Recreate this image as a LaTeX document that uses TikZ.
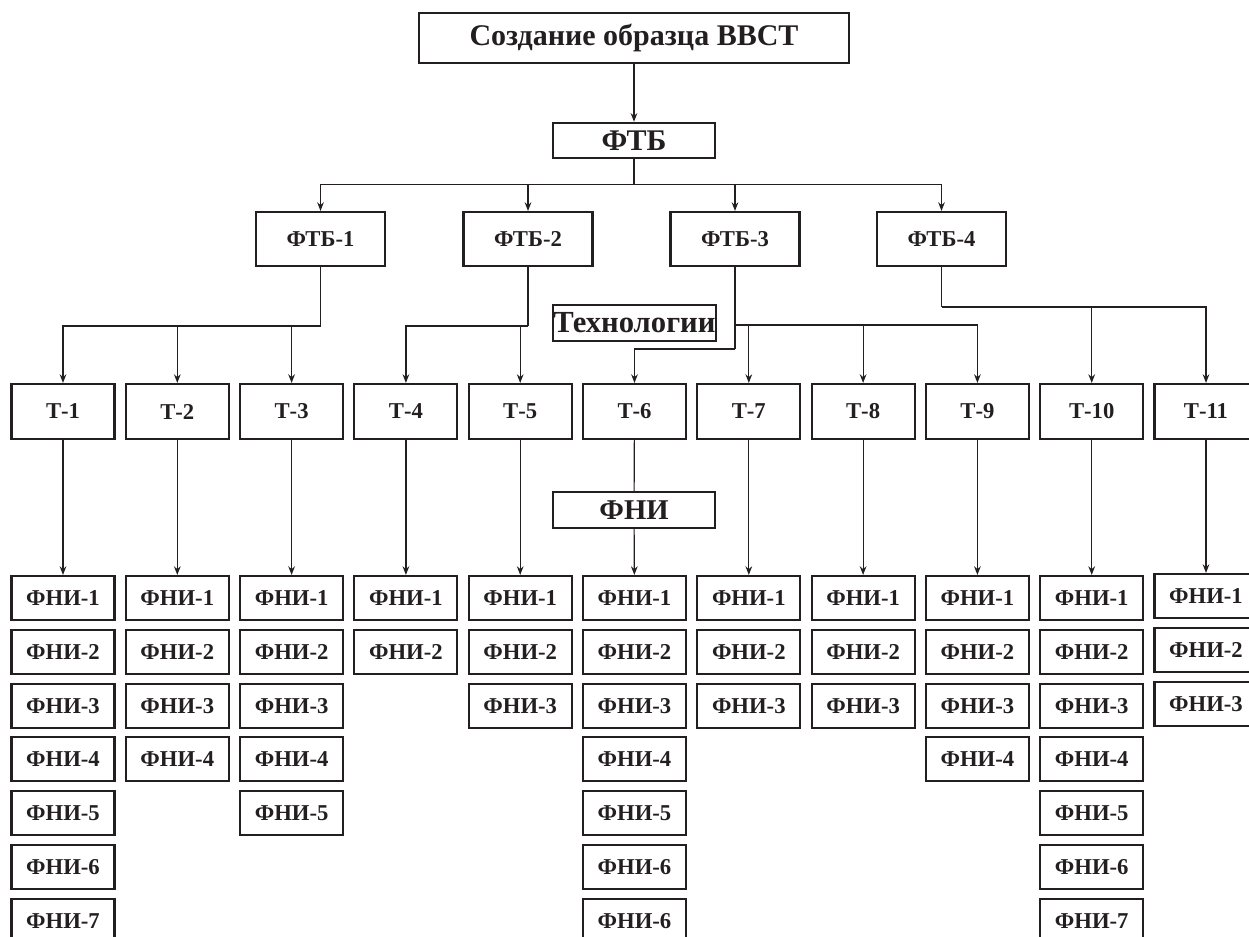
\documentclass[tikz,border=0pt]{standalone}
\usepackage{fontspec}
\setmainfont{Liberation Serif}
\usetikzlibrary{arrows.meta}
\definecolor{inkc}{RGB}{35,31,32}
\begin{document}
\begin{tikzpicture}[x=0.75pt,y=-0.75pt,
  box/.style={draw=inkc, line width=1.6pt, rectangle, inner sep=0pt, text=inkc,
    font=\bfseries\fontsize{17}{17}\selectfont},
  tbox/.style={box, minimum width=77.25pt, minimum height=41.25pt},
  fbox/.style={box, minimum width=77.25pt, minimum height=33pt},
  ftbbox/.style={box, minimum width=96.75pt, minimum height=40.5pt},
  headbox/.style={box, minimum width=121.5pt, minimum height=26.5pt},
  conn/.style={draw=inkc, line width=0.9pt},
  arr/.style={conn, -{Stealth[length=6.5pt,width=5pt]}}
]
\useasboundingbox (0,0) rectangle (1249,936);

% top levels
\node[box, minimum width=322.5pt, minimum height=37.5pt,
  font=\bfseries\fontsize{22.5}{22.5}\selectfont] (top) at (634,38) {Создание образца ВВСТ};
\node[headbox, font=\bfseries\fontsize{22.5}{22.5}\selectfont] (ftb) at (634,140.5) {ФТБ};
\draw[arr] (top) -- (ftb);

\foreach \j/\xx in {1/320.5,2/528,3/735,4/941.5}
  \node[ftbbox] (ftb\j) at (\xx,239) {ФТБ-\j};

\node[headbox, minimum width=122pt, minimum height=27pt,
  font=\bfseries\fontsize{23}{23}\selectfont] (tech) at (634.5,323) {Технологии};

% technology row and research rows
\foreach \i/\n in {1/7,2/4,3/5,4/2,5/3,6/7,7/3,8/3,9/4,10/7,11/3}{
  \pgfmathsetmacro\xc{63+114.3*(\i-1)}
  \node[tbox] (t\i) at (\xc,411.5) {Т-\i};
  \foreach \k in {1,...,\n}{
    \pgfmathtruncatemacro\lab{(\i==6 && \k==7) ? 6 : \k}
    \pgfmathsetmacro\yc{598+53.8*(\k-1)-(\i==11 ? 2 : 0)}
    \node[fbox] (f\i-\k) at (\xc,\yc) {ФНИ-\lab};
  }
}

\node[headbox, minimum height=27pt, font=\bfseries\fontsize{21.5}{21.5}\selectfont] (fni) at (634,510) {ФНИ};

% branches from the main block
\coordinate (busA) at (634,184.5);
\draw[conn] (ftb) -- (busA);
\foreach \j in {1,...,4} \draw[arr] (busA) -| (ftb\j);

\coordinate (b1) at (320.5,326);
\draw[conn] (ftb1) -- (b1);
\foreach \i in {1,2,3} \draw[arr] (b1) -| (t\i);

\coordinate (b2) at (528,326);
\draw[conn] (ftb2) -- (b2);
\foreach \i in {4,5} \draw[arr] (b2) -| (t\i);

\coordinate (b3) at (735,325);
\coordinate (b3l) at (735,349);
\draw[conn] (ftb3) -- (b3l);
\draw[arr] (b3l) -| (t6);
\foreach \i in {7,8,9} \draw[arr] (b3) -| (t\i);

\coordinate (b4) at (941.5,307);
\draw[conn] (ftb4) -- (b4);
\foreach \i in {10,11} \draw[arr] (b4) -| (t\i);

% technologies to their first research items
\foreach \i in {1,2,3,4,5,7,8,9,10,11} \draw[arr] (t\i) -- (f\i-1);
\draw[conn] (t6) -- (fni);
\draw[arr] (fni) -- (f6-1);
\end{tikzpicture}
\end{document}
